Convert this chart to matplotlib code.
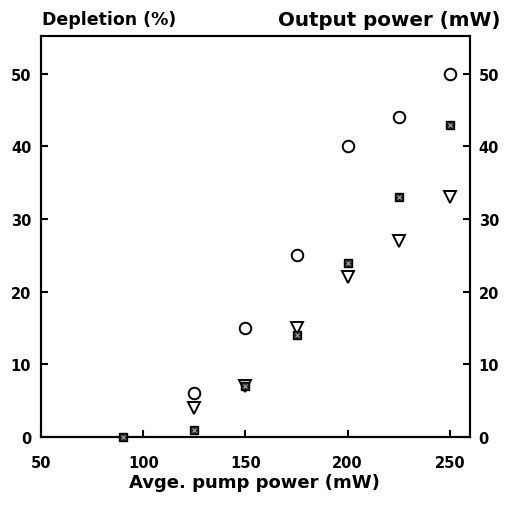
import matplotlib
matplotlib.use("Agg")
import matplotlib.pyplot as plt

plt.rcParams['font.family'] = ['DejaVu Sans']
plt.rcParams['font.weight'] = 'bold'

# Data
pump_depl = [125, 150, 175, 200, 225, 250]
depletion = [6, 15, 25, 40, 44, 50]

pump_sq = [90, 125, 150, 175, 200, 225, 250]
output_sq = [0, 1, 7, 14, 24, 33, 43]

pump_tri = [125, 150, 175, 200, 225, 250]
output_tri = [4, 7, 15, 22, 27, 33]

x_ticks = [50, 100, 150, 200, 250]
y_ticks = [0, 10, 20, 30, 40, 50]

fig = plt.figure(figsize=(5.08, 5.06), dpi=100)
ax = fig.add_axes([0.0807, 0.1344, 0.845, 0.7925])
ax2 = ax.twinx()

ax.set_xlim(50, 260)
ax.set_ylim(0, 55.2)
ax2.set_ylim(0, 55.2)

ax.plot(pump_depl, depletion, linestyle='none', marker='o', markersize=8.3,
        markerfacecolor='white', markeredgecolor='black', markeredgewidth=1.4, clip_on=False, zorder=3)
ax2.plot(pump_tri, output_tri, linestyle='none', marker='v', markersize=8.5,
         markerfacecolor='white', markeredgecolor='black', markeredgewidth=1.4, clip_on=False, zorder=3)
ax2.plot(pump_sq, output_sq, linestyle='none', marker='s', markersize=6.4,
         markerfacecolor='#222222', markeredgecolor='black', markeredgewidth=1, clip_on=False, zorder=4)
ax2.plot(pump_sq, output_sq, linestyle='none', marker='x', markersize=3,
         markeredgecolor='#aaaaaa', markeredgewidth=0.8, clip_on=False, zorder=5)

for a in (ax, ax2):
    for s in a.spines.values():
        s.set_linewidth(1.5)

ax.set_xticks(x_ticks)
ax.set_xticklabels([str(t) for t in x_ticks])
ax.set_yticks(y_ticks)
ax.set_yticklabels([str(t) for t in y_ticks])
ax2.set_yticks(y_ticks)
ax2.set_yticklabels([str(t) for t in y_ticks])

ax.tick_params(axis='x', direction='in', length=5, width=1.5, labelsize=10.5, pad=13)
ax.tick_params(axis='y', direction='in', length=5, width=1.5, labelsize=10.5, pad=7)
ax2.tick_params(axis='y', direction='in', length=5, width=1.5, labelsize=10.5, pad=6)
for lab in ax.get_xticklabels() + ax.get_yticklabels() + ax2.get_yticklabels():
    lab.set_fontweight('bold')

fig.text(0.5, 1 - 483 / 506, 'Avge. pump power (mW)', ha='center', va='center',
         fontsize=13, fontweight='bold')

fig.text(42 / 508, 1 - 20 / 506, 'Depletion (%)', ha='left', va='center', fontsize=12.5, fontweight='bold')
fig.text(500 / 508, 1 - 21 / 506, 'Output power (mW)', ha='right', va='center', fontsize=14.3, fontweight='bold')

fig.savefig('out.png', dpi=100)
